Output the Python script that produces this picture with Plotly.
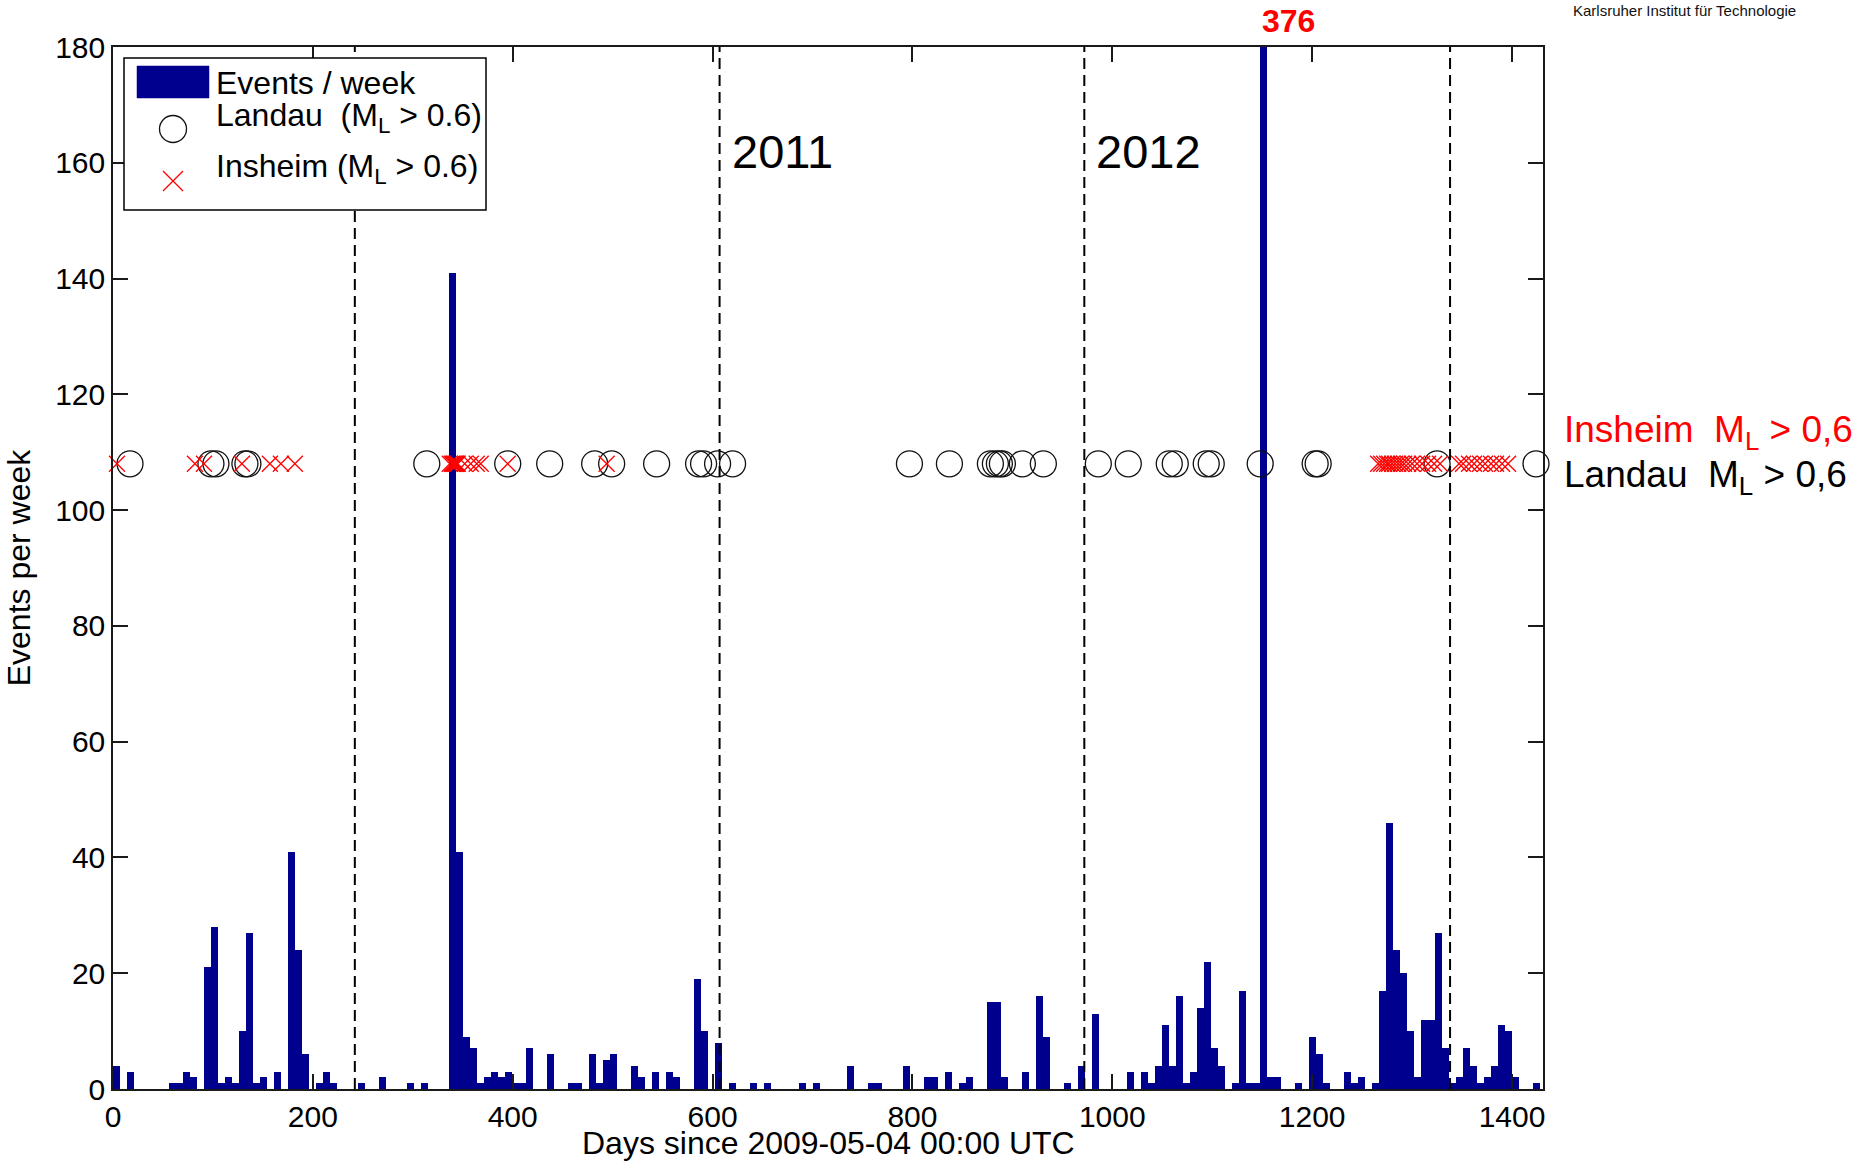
import plotly.graph_objects as go

# ---- data -------------------------------------------------------------
BIN_DAYS = 7  # histogram bin width (one week)

# events counted per week, week 0 starts 2009-05-04
events_per_week = [
    4, 0, 3, 0, 0, 0, 0, 0, 1, 1,        # 0-9
    3, 2, 0, 21, 28, 1, 2, 1, 10, 27,    # 10-19
    1, 2, 0, 3, 0, 41, 24, 6, 0, 1,      # 20-29
    3, 1, 0, 0, 0, 1, 0, 0, 2, 0,        # 30-39
    0, 0, 1, 0, 1, 0, 0, 0, 141, 41,     # 40-49
    9, 7, 1, 2, 3, 2, 3, 1, 1, 7,        # 50-59
    0, 0, 6, 0, 0, 1, 1, 0, 6, 1,        # 60-69
    5, 6, 0, 0, 4, 2, 0, 3, 0, 3,        # 70-79
    2, 0, 0, 19, 10, 0, 8, 0, 1, 0,      # 80-89
    0, 1, 0, 1, 0, 0, 0, 0, 1, 0,        # 90-99
    1, 0, 0, 0, 0, 4, 0, 0, 1, 1,        # 100-109
    0, 0, 0, 4, 0, 0, 2, 2, 0, 3,        # 110-119
    0, 1, 2, 0, 0, 15, 15, 2, 0, 0,      # 120-129
    3, 0, 16, 9, 0, 0, 1, 0, 4, 0,       # 130-139
    13, 0, 0, 0, 0, 3, 0, 3, 1, 4,       # 140-149
    11, 4, 16, 1, 3, 14, 22, 7, 4, 0,    # 150-159
    1, 17, 1, 1, 376, 2, 2, 0, 0, 1,     # 160-169
    0, 9, 6, 1, 0, 0, 3, 1, 2, 0,        # 170-179
    1, 17, 46, 24, 20, 10, 2, 12, 12, 27,  # 180-189
    7, 1, 2, 7, 4, 1, 2, 4, 11, 10,      # 190-199
    2, 0, 0, 1, 0,                       # 200-204
]

# days of the larger events (M_L > 0.6)
landau_days = [
    17, 98, 103, 132, 135, 314, 395, 437, 482, 499, 544,
    586, 591, 605, 620, 797, 837, 878, 883, 887, 890, 910, 931,
    986, 1016, 1057, 1063, 1094, 1099, 1148, 1203, 1206, 1325, 1424,
]
insheim_days = [
    4, 82, 91, 129, 157, 168, 182,
    337, 339, 340, 341, 342, 343, 344, 345, 352, 358, 364, 368,
    395, 494,
    1266, 1269, 1272, 1275, 1277, 1280, 1283, 1286, 1289, 1292, 1296,
    1300, 1305, 1310, 1316, 1322, 1328,
    1347, 1351, 1357, 1362, 1368, 1373, 1379, 1384, 1390, 1396,
]

year_start_days = [242, 607, 972, 1338]    # 2010-01-01 ... 2013-01-01
year_labels = {607: "2011", 972: "2012"}
x_ticks = [0, 200, 400, 600, 800, 1000, 1200, 1400]
y_ticks = [0, 20, 40, 60, 80, 100, 120, 140, 160, 180]

# ---- layout constants -------------------------------------------------
W, H = 1860, 1164
PL, PR, PT, PB = 113, 1543, 47, 1089        # plot area in pixels
X_MAX, Y_MAX = 1431, 180
EVENT_ROW = 108                              # y level of the event markers
FONT = "Liberation Sans, Arial, Helvetica, sans-serif"
BAR_BLUE = "#00008F"
RED = "#FF0000"


def fx(px):
    return (px - PL) / (PR - PL)


def fy(py):
    return (PB - py) / (PB - PT)


bin_centers = [BIN_DAYS * i + BIN_DAYS / 2 for i in range(len(events_per_week))]

fig = go.Figure()
fig.add_trace(go.Bar(
    x=bin_centers, y=events_per_week, width=BIN_DAYS,
    marker=dict(color=BAR_BLUE, line=dict(width=0)),
    name="Events / week",
))
fig.add_trace(go.Scatter(
    x=landau_days, y=[EVENT_ROW] * len(landau_days), mode="markers",
    marker=dict(symbol="circle-open", size=26, color="#111111",
                line=dict(width=1.3)),
    name="Landau (M<sub>L</sub> > 0.6)", cliponaxis=False,
))
fig.add_trace(go.Scatter(
    x=insheim_days, y=[EVENT_ROW] * len(insheim_days), mode="markers",
    marker=dict(symbol="x-thin-open", size=16, color=RED,
                line=dict(width=1.3, color=RED)),
    name="Insheim (M<sub>L</sub> > 0.6)", cliponaxis=False,
))

shapes = []
# year boundaries
for d in year_start_days:
    shapes.append(dict(type="line", xref="x", yref="y", x0=d, x1=d, y0=0, y1=Y_MAX,
                       line=dict(color="black", width=2, dash="11px,6px"),
                       layer="above"))

# legend box
shapes.append(dict(type="rect", xref="paper", yref="paper",
                   x0=fx(124), x1=fx(486), y0=fy(210), y1=fy(58),
                   line=dict(color="black", width=1.5), fillcolor="white",
                   layer="above"))
shapes.append(dict(type="rect", xref="paper", yref="paper",
                   x0=fx(137), x1=fx(209), y0=fy(98), y1=fy(66),
                   line=dict(color=BAR_BLUE, width=0.5), fillcolor=BAR_BLUE,
                   layer="above"))
shapes.append(dict(type="circle", xref="paper", yref="paper",
                   x0=fx(159.5), x1=fx(186.5), y0=fy(142.5), y1=fy(115.5),
                   line=dict(color="#111111", width=1.3), layer="above"))
shapes.append(dict(type="line", xref="paper", yref="paper",
                   x0=fx(163), x1=fx(183), y0=fy(171), y1=fy(191),
                   line=dict(color=RED, width=1.3), layer="above"))
shapes.append(dict(type="line", xref="paper", yref="paper",
                   x0=fx(163), x1=fx(183), y0=fy(191), y1=fy(171),
                   line=dict(color=RED, width=1.3), layer="above"))

annotations = []
NBSP = "\u00a0"
legend_rows = [
    ("Events / week", 83),
    ("Landau" + NBSP * 2 + "(M<sub>L</sub> > 0.6)", 117.5),
    ("Insheim (M<sub>L</sub> > 0.6)", 168.5),
]
for text, yc in legend_rows:
    annotations.append(dict(xref="paper", yref="paper", x=fx(214), y=fy(yc),
                            xanchor="left", yanchor="middle", showarrow=False,
                            text=text, font=dict(family=FONT, size=32, color="black")))

# year labels
for d, lab in year_labels.items():
    annotations.append(dict(xref="x", yref="y", x=d + 10, y=162,
                            xanchor="left", yanchor="middle", showarrow=False,
                            text=lab, font=dict(family=FONT, size=47, color="black")))

# value of the clipped peak bar
peak_idx = max(range(len(events_per_week)), key=lambda i: events_per_week[i])
annotations.append(dict(xref="x", yref="paper", x=BIN_DAYS * peak_idx, y=fy(21),
                        xanchor="left", yanchor="middle", showarrow=False,
                        text="<b>%d</b>" % events_per_week[peak_idx],
                        font=dict(family=FONT, size=32, color=RED)))

# labels on the right of the marker rows
annotations.append(dict(xref="paper", yref="paper", x=fx(1562), y=fy(432),
                        xanchor="left", yanchor="middle", showarrow=False,
                        text="Insheim" + NBSP * 2 + "M<sub>L</sub> > 0,6",
                        font=dict(family=FONT, size=37, color=RED)))
annotations.append(dict(xref="paper", yref="paper", x=fx(1562), y=fy(477),
                        xanchor="left", yanchor="middle", showarrow=False,
                        text="Landau" + NBSP * 2 + "M<sub>L</sub> > 0,6",
                        font=dict(family=FONT, size=37, color="black")))

annotations.append(dict(xref="paper", yref="paper", x=fx(1571), y=fy(11),
                        xanchor="left", yanchor="middle", showarrow=False,
                        text="Karlsruher Institut für Technologie",
                        font=dict(family=FONT, size=15, color="#111111")))

# x-axis title, sitting on the bottom edge of the figure
annotations.append(dict(xref="paper", yref="paper", x=0.5, y=fy(H - 1),
                        xanchor="center", yanchor="bottom", showarrow=False,
                        text="Days since 2009-05-04 00:00 UTC",
                        font=dict(family=FONT, size=32, color="black")))

axis_common = dict(showline=True, linecolor="#1a1a1a", linewidth=1.5,
                   mirror="ticks", ticks="inside", ticklen=15, tickwidth=1.5,
                   tickcolor="#1a1a1a", showgrid=False, zeroline=False,
                   tickfont=dict(family=FONT, size=30, color="black"))

fig.update_layout(
    width=W, height=H,
    margin=dict(l=PL, r=W - PR, t=PT, b=H - PB, autoexpand=False),
    paper_bgcolor="white", plot_bgcolor="white",
    showlegend=False, bargap=0,
    xaxis=dict(range=[0, X_MAX], tickvals=x_ticks, **axis_common),
    yaxis=dict(range=[0, Y_MAX], tickvals=y_ticks, **axis_common,
               title=dict(text="Events per week",
                          font=dict(family=FONT, size=32, color="black"))),
    shapes=shapes, annotations=annotations,
)

fig.write_html("out.html")
